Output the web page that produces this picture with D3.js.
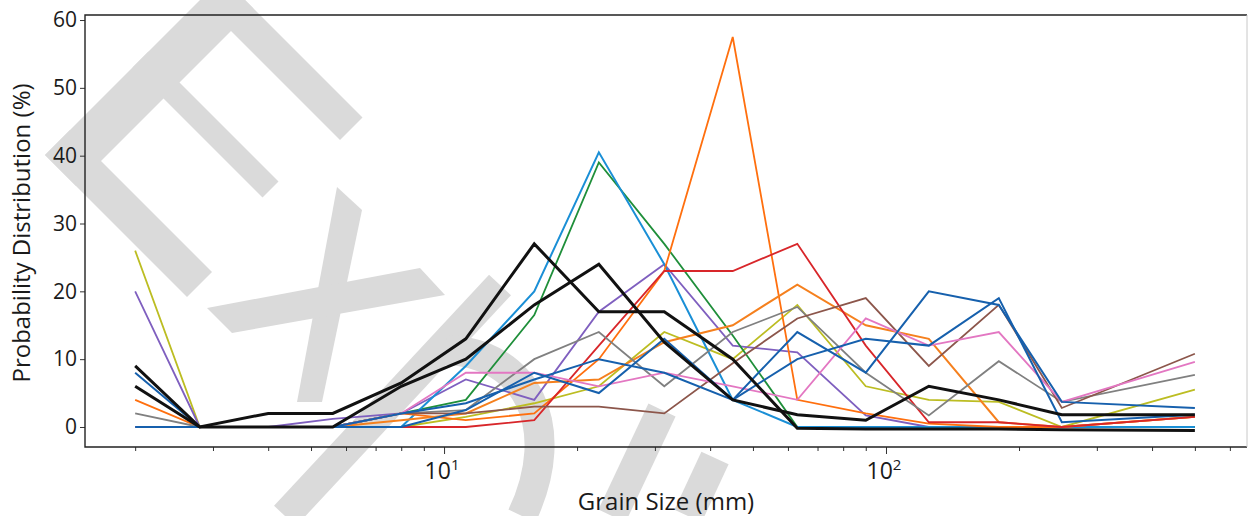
<!DOCTYPE html>
<html>
<head>
<meta charset="utf-8">
<script src="https://cdn.jsdelivr.net/npm/d3@7"></script>
<style>
  body { margin: 0; background: #fff; }
  svg { display: block; }
  text { font-family: "Open Sans", sans-serif; fill: #1a1a1a; }
</style>
</head>
<body>
<script>
// grain size classes (mm)
var grainSize = [2, 2.8, 4, 5.6, 8, 11.2, 16, 22.4, 31.5, 45, 63, 90, 125, 180, 250, 500];

// probability distribution (%) per sample
var olive     = [26, 0, 0, 0, 0, 1.5, 3.5, 6, 14, 10, 18, 6, 4, 3.7, 0, 5.5];
var purple    = [20, 0, 0, 1.2, 2, 7, 4, 17, 24, 12, 11, 1.7, 0, 0, 0, 0];
var green     = [0, 0, 0, 0, 2, 4, 16.5, 39, 27, 13.5, 0, 0, 0, 0, 0, 0];
var lightBlue = [0, 0, 0, 0, 0, 9, 20, 40.5, 24, 4, 0, 0, 0, 0, 0, 0];
var orangeA   = [4, 0, 0, 0, 2, 1, 2, 10, 23, 57.5, 4, 2, 0.5, 0, 0, 1.5];
var orangeB   = [0, 0, 0, 0, 1, 2, 6.5, 7, 12.5, 15, 21, 15, 13, 0.7, 0, 1.5];
var red       = [0, 0, 0, 0, 0, 0, 1, 12, 23, 23, 27, 12, 0.7, 0.7, 0, 1.5];
var grey      = [2, 0, 0, 0, 2, 2.5, 10, 14, 6, 14, 17.7, 8, 1.7, 9.7, 3.7, 7.7];
var brown     = [0, 0, 0, 0, 2, 2, 3, 3, 2, 9.4, 16, 19, 9, 18, 2.8, 10.8];
var pink      = [0, 0, 0, 0, 2, 8, 8, 6, 8, 6, 4, 16, 12, 14, 3.7, 9.6];
var blueX     = [8, 0, 0, 0, 0, 2.5, 8, 5, 13, 4, 14, 8, 20, 18, 3.7, 2.8];
var blueY     = [0, 0, 0, 0, 2, 3.5, 7, 10, 8, 4, 10, 13, 12, 19, 0.7, 1.8];
var blackA    = [9, 0, 2, 2, 6.5, 13, 27, 17, 17, 10, -0.2, -0.3, -0.3, -0.3, -0.4, -0.5];
var blackB    = [6, 0, 0, 0, 6, 10, 18, 24, 12.5, 4, 1.8, 1, 6, 4, 1.8, 1.8];

var yTicks = [0, 10, 20, 30, 40, 50, 60];
var xMajor = [10, 100];
var xMajorExp = ["1", "2"];

var series = [
  {values: olive,     color: "#bcbd22", w: 1.8},
  {values: purple,    color: "#7f5fbf", w: 1.8},
  {values: green,     color: "#1f8f3a", w: 1.8},
  {values: lightBlue, color: "#1a8fd6", w: 2},
  {values: orangeA,   color: "#ff6f0e", w: 1.8},
  {values: orangeB,   color: "#f5801e", w: 2},
  {values: red,       color: "#d8262a", w: 1.8},
  {values: grey,      color: "#808080", w: 1.8},
  {values: brown,     color: "#8c564b", w: 1.8},
  {values: pink,      color: "#e377c2", w: 1.8},
  {values: blueX,     color: "#1660ad", w: 2},
  {values: blueY,     color: "#1660ad", w: 2},
  {values: blackA,    color: "#111111", w: 3},
  {values: blackB,    color: "#111111", w: 3}
];

var W = 1248, H = 516;
var mLeft = 85, mRight = 1247, mTop = 15, mBottom = 447;

var svg = d3.select("body").append("svg")
  .attr("width", W)
  .attr("height", H);

var x = d3.scaleLog().domain([1.54, 656]).range([mLeft, mRight]);
var y = d3.scaleLinear().domain([-2.95, 60.74]).range([mBottom, mTop]);

// watermark (light grey stamp behind the chart)
var wm = svg.append("g").attr("fill", "#dadada").attr("stroke", "none");
function sd(s, d) { return [(s + d) / 2, (s - d) / 2]; }
function band(s0, s1, d0, d1) {
  return [sd(s0, d0), sd(s1, d0), sd(s1, d1), sd(s0, d1)];
}
var stampPolys = [
  band(200, 262, -110, 245),
  band(200, 480, 200, 245),
  band(200, 460, 65, 97),
  band(200, 484, -110, -60),
  [[337, 187], [362, 210], [322, 402], [297, 402]],
  [[207, 308], [420, 268], [445, 295], [232, 333]]
];
wm.selectAll("polygon").data(stampPolys).enter().append("polygon")
  .attr("points", function(d) { return d.map(function(p) { return p.join(","); }).join(" "); });
var stampStrokes = [
  "M285,516 L500,285",
  "M446,350 C525,352 565,425 522,516",
  "M662,410 L612,516",
  "M715,458 L688,516"
];
svg.append("g").selectAll("path").data(stampStrokes).enter().append("path")
  .attr("d", function(d) { return d; })
  .attr("fill", "none")
  .attr("stroke", "#dadada")
  .attr("stroke-width", 30);

// y axis
var yAxis = svg.append("g")
  .attr("transform", "translate(" + mLeft + ",0)")
  .call(d3.axisLeft(y).tickValues(yTicks).tickSize(5).tickPadding(3));
yAxis.select(".domain").remove();
yAxis.selectAll("line").attr("stroke", "#333");
yAxis.selectAll("text").attr("font-size", "21px").attr("fill", "#1a1a1a");

// x axis: minor + major ticks
var minor = [];
[1, 10, 100].forEach(function(dec) {
  for (var k = 2; k <= 9; k++) {
    var v = k * dec;
    if (v > 1.54 && v < 656) minor.push(v);
  }
});
var xMinor = svg.append("g")
  .attr("transform", "translate(0," + mBottom + ")")
  .call(d3.axisBottom(x).tickValues(minor).tickSize(4).tickFormat(""));
xMinor.select(".domain").remove();
xMinor.selectAll("line").attr("stroke", "#333");

var xAxis = svg.append("g")
  .attr("transform", "translate(0," + mBottom + ")")
  .call(d3.axisBottom(x).tickValues(xMajor).tickSize(7).tickFormat(""));
xAxis.select(".domain").remove();
xAxis.selectAll("line").attr("stroke", "#333");

var xl = svg.append("g").selectAll("text").data(xMajor).enter().append("text")
  .attr("x", function(d) { return x(d) - 2; })
  .attr("y", 479)
  .attr("text-anchor", "middle")
  .attr("font-size", "23px");
xl.append("tspan").text("10");
xl.append("tspan").attr("dy", -9).attr("font-size", "15px")
  .text(function(d, i) { return xMajorExp[i]; });

// frame: three dark sides, faint right edge
svg.append("path")
  .attr("d", "M" + mRight + "," + mTop + "H" + mLeft + "V" + mBottom + "H" + mRight)
  .attr("fill", "none")
  .attr("stroke", "#222")
  .attr("stroke-width", 1.4);
svg.append("line")
  .attr("x1", mRight).attr("x2", mRight)
  .attr("y1", mTop).attr("y2", mBottom)
  .attr("stroke", "#c8c8c8")
  .attr("stroke-width", 1);

// lines
var line = d3.line()
  .x(function(d, i) { return x(grainSize[i]); })
  .y(function(d) { return y(d); });

svg.append("g").selectAll("path").data(series).enter().append("path")
  .attr("d", function(d) { return line(d.values); })
  .attr("fill", "none")
  .attr("stroke", function(d) { return d.color; })
  .attr("stroke-width", function(d) { return d.w; })
  .attr("stroke-linejoin", "miter");

// axis titles
svg.append("text")
  .attr("transform", "translate(30,233) rotate(-90)")
  .attr("text-anchor", "middle")
  .attr("font-size", "24px")
  .text("Probability Distribution (%)");

svg.append("text")
  .attr("x", 666).attr("y", 510)
  .attr("text-anchor", "middle")
  .attr("font-size", "24px")
  .text("Grain Size (mm)");
</script>
</body>
</html>
